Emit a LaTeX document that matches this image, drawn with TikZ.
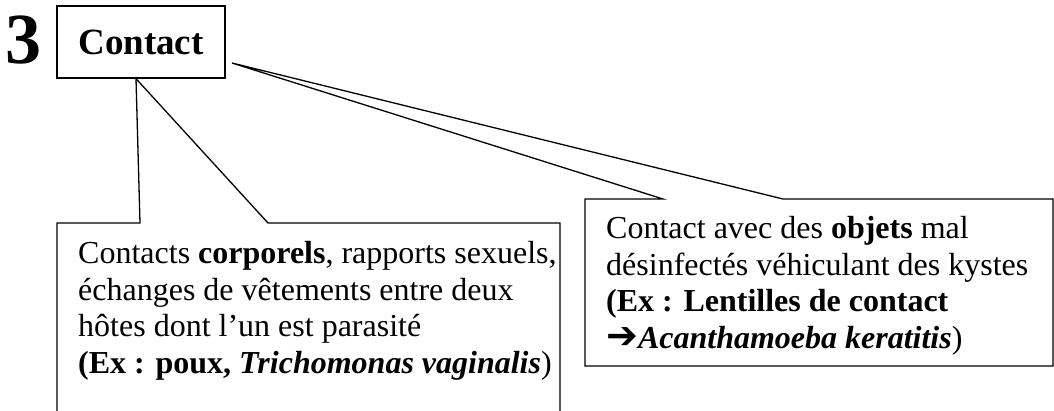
\documentclass[tikz,border=0pt]{standalone}
\usepackage{fontspec}
\setmainfont{Liberation Serif}
\newfontfamily\arrowfont{DejaVu Sans}
\usepackage{tikz}
\usetikzlibrary{positioning}

\begin{document}
\begin{tikzpicture}[x=1pt, y=-1pt,
  numlabel/.style={inner sep=0, font=\fontsize{72}{72}\selectfont\bfseries},
  topic/.style={draw, line width=1.3pt, minimum width=168pt, minimum height=72pt, font=\fontsize{37}{40}\selectfont\bfseries},
  infotext/.style={inner sep=0, align=left, anchor=base west, font=\fontsize{32}{36.5}\selectfont},
  callout/.style={draw, line width=1.3pt, line join=miter}
]
\useasboundingbox (0,0) rectangle (1054,410);
\clip (0,0) rectangle (1054,410);
\node[topic] (contact) at (141,42) {Contact};
\node[numlabel, anchor=base west] (num) at (5,63) {3};
% callout tips
\coordinate (tipbody) at ([xshift=-5pt]contact.south);
\coordinate (tipobj) at (232,63);
% left callout
\draw[callout] (57,425) -- (57,223) -- (140,223) -- (tipbody) -- (268,223) -- (560,223) -- (560,425);
\node[infotext] (bodytext) at (78,373) {Contacts \textbf{corporels}, rapports sexuels,\\
  échanges de vêtements entre deux\\
  hôtes dont l’un est parasité\\
  \textbf{(Ex : poux, \textit{Trichomonas vaginalis}})};
% right callout
\draw[callout] (585,199) -- (663,199) -- (tipobj) -- (783,199) -- (1053,199) -- (1053,366) -- (585,366) -- cycle;
\node[infotext] (objtext) at (606,348) {Contact avec des \textbf{objets} mal\\
  désinfectés véhiculant des kystes\\
  \textbf{(Ex : Lentilles de contact}\\
  \textbf{{\arrowfont\fontsize{38}{36.5}\selectfont ➔}\textit{Acanthamoeba keratitis}})};
\end{tikzpicture}
\end{document}
